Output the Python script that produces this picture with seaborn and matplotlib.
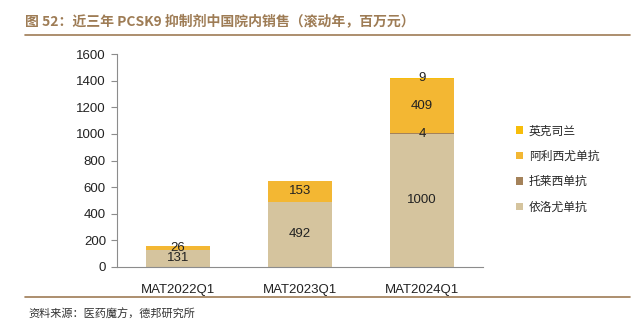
import numpy as np
import pandas as pd
import matplotlib
matplotlib.use("Agg")
import matplotlib.pyplot as plt
import seaborn as sns
from matplotlib.lines import Line2D
from matplotlib.patches import Patch

categories = ["MAT2022Q1", "MAT2023Q1", "MAT2024Q1"]
evolocumab = [131, 492, 1000]   # 依洛尤单抗
tafolecimab = [0, 0, 4]         # 托莱西单抗
alirocumab = [26, 153, 409]     # 阿利西尤单抗
inclisiran = [0, 0, 9]          # 英克司兰
series_names = ["依洛尤单抗", "托莱西单抗", "阿利西尤单抗", "英克司兰"]
yticks = [0, 200, 400, 600, 800, 1000, 1200, 1400, 1600]

colors = ["#D5C49E", "#A4825A", "#F3B733", "#F7BD0A"]

sns.set_theme(style="white")
plt.rcParams["font.family"] = ["Liberation Sans", "Noto Sans CJK SC", "DejaVu Sans"]
cjk = ["Noto Sans CJK SC", "DejaVu Sans"]

series = [evolocumab, tafolecimab, alirocumab, inclisiran]
cum = np.zeros(len(categories))
cums = []
for s in series:
    cum = cum + np.array(s, dtype=float)
    cums.append(cum.copy())

fig = plt.figure(figsize=(6.33, 3.26), dpi=100)
ax = fig.add_axes([0.185, 0.181, 0.578, 0.653])

# draw from top to bottom so lower segments overlay
for i in range(len(series) - 1, -1, -1):
    d = pd.DataFrame({"cat": categories, "val": cums[i]})
    sns.barplot(data=d, x="cat", y="val", color=colors[i], width=0.53,
                saturation=1, ax=ax, order=categories, linewidth=0,
                edgecolor="none")

# labels
for i, s in enumerate(series):
    for j, v in enumerate(s):
        if v > 0:
            center = cums[i][j] - v / 2.0
            ax.text(j, center, f"{v}", ha="center", va="center", fontsize=9.5,
                    color="#222222")

ax.set_ylim(0, 1600)
ax.set_yticks(yticks)
ax.set_xlim(-0.5, 2.5)
ax.set_xlabel("")
ax.set_ylabel("")
for sp in ["top", "right"]:
    ax.spines[sp].set_visible(False)
for sp in ["left", "bottom"]:
    ax.spines[sp].set_color("#8C8C8C")
    ax.spines[sp].set_linewidth(0.8)
ax.tick_params(axis="y", which="both", left=True, length=4, width=0.8,
               color="#8C8C8C", labelsize=9.5, labelcolor="#222222", pad=4)
ax.tick_params(axis="x", bottom=False, labelsize=9.5, labelcolor="#222222", pad=6)

# legend
handles = [Patch(facecolor=colors[i], edgecolor="none") for i in [3, 2, 1, 0]]
labels = [series_names[i] for i in [3, 2, 1, 0]]
leg = fig.legend(handles, labels, loc="center left", bbox_to_anchor=(0.798, 0.482),
                 frameon=False, prop={"family": cjk, "size": 8.5},
                 handlelength=0.6, handleheight=0.6, handletextpad=0.5,
                 labelspacing=1.05)

# title and rules
fig.text(0.04, 0.935, "图 52：近三年 PCSK9 抑制剂中国院内销售（滚动年，百万元）",
         fontsize=10, fontweight="bold", color="#9E7C55", family=cjk,
         ha="left", va="center")
fig.add_artist(Line2D([0.04, 0.995], [0.893, 0.893], color="#9E7C55", lw=1.2))
fig.add_artist(Line2D([0.04, 0.995], [0.088, 0.088], color="#9E7C55", lw=1.2))
fig.text(0.045, 0.035, "资料来源：医药魔方，德邦研究所", fontsize=8, color="#333333",
         family=cjk, ha="left", va="center")

fig.savefig("out.png", dpi=100)
